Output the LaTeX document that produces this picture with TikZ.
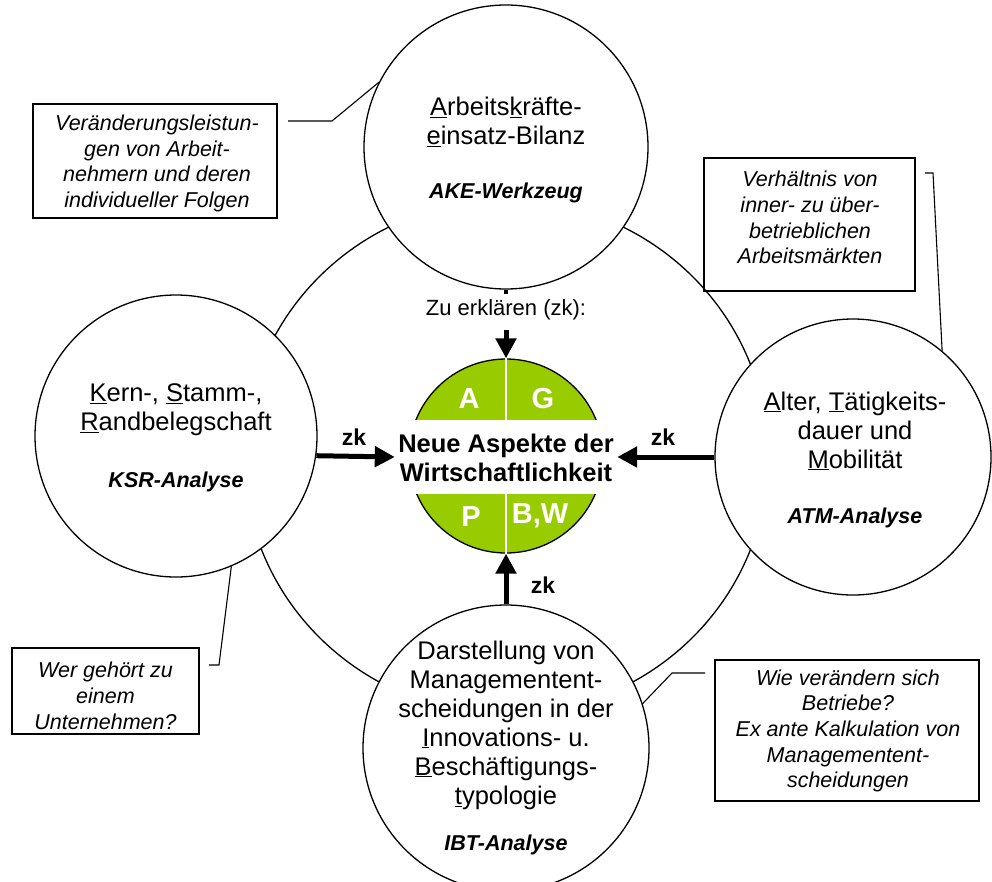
\documentclass[tikz,border=0pt]{standalone}
\usepackage{fontspec}
\setmainfont{Liberation Sans}
\usetikzlibrary{arrows.meta}
\definecolor{aspgreen}{RGB}{153,204,0}
\newcommand{\uln}[1]{\underline{#1}}
\begin{document}
\begin{tikzpicture}[x=1pt,y=-1pt,
  bubble/.style={circle,draw,line width=1.3pt,fill=white,inner sep=0pt},
  bubbletext/.style={align=center,inner sep=0pt,font=\fontsize{25.5}{29}\selectfont},
  tooltext/.style={inner sep=0pt,font=\fontsize{21.5}{25}\selectfont\bfseries\itshape},
  callbox/.style={draw,line width=1.1pt,inner sep=0pt},
  calltext/.style={align=center,inner sep=0pt,font=\fontsize{21.5}{25.7}\selectfont\itshape},
  callline/.style={line width=1.1pt},
  zkarrow/.style={line width=5pt,-{Triangle[width=20pt,length=20pt]}},
  zklabel/.style={inner sep=0pt,font=\fontsize{23}{26}\selectfont\bfseries},
  letter/.style={inner sep=0pt,text=white,font=\fontsize{29}{32}\selectfont\bfseries}
]
\useasboundingbox (0,0) rectangle (992,881);

% big ring
\draw[line width=1.3pt] (506,457) ellipse [x radius=262pt, y radius=257pt];

% satellite circles
\node[bubble,minimum size=284pt] (ake) at (506,147) {};
\node[bubble,minimum size=282pt] (ksr) at (176,436) {};
\node[bubble,minimum size=276pt] (atm) at (853,457) {};
\node[bubble,minimum size=286pt] (ibt) at (506,748) {};

% central green disc
\node[circle,draw,line width=1.3pt,fill=aspgreen,minimum size=194pt,inner sep=0pt] (asp) at (506,456) {};
\draw[white,line width=1.5pt] (asp.north) -- (asp.south);
\node[fill=white,minimum width=222pt,minimum height=74pt,inner sep=0pt] (band) at (506,457) {};
\node[align=center,inner sep=0pt,font=\fontsize{25.5}{29}\selectfont\bfseries] (asptext) at (506,457.5) {Neue Aspekte der\\Wirtschaftlichkeit};
\node[letter] (la) at (469,399) {A};
\node[letter] (lg) at (543,399) {G};
\node[letter] (lp) at (471,517) {P};
\node[letter] (lbw) at (540,516) {B,W};

% arrows
\coordinate (zkin) at (506,330);
\draw[zkarrow] (zkin) -- (asp.north);
\draw[zkarrow] (ksr.-8.5) -- (band.west);
\draw[zkarrow] (atm.west) -- (band.east);
\draw[zkarrow] (ibt.north) -- (asp.south);
\draw[line width=4pt] (ake.south) -- ++(0,4);

\node[inner sep=0pt,font=\fontsize{22}{25}\selectfont] (zulabel) at (506,310) {Zu erklären (zk):};
\node[zklabel] (zkl) at (354,437) {zk};
\node[zklabel] (zkr) at (663,437) {zk};
\node[zklabel] (zkb) at (543,585) {zk};

% circle texts
\node[bubbletext] (aketext) at (506,122) {\uln{A}rbeits\uln{k}räfte-\\\uln{e}insatz-Bilanz};
\node[tooltext] (aketool) at (506,193) {AKE-Werkzeug};
\node[bubbletext] (ksrtext) at (176,410) {\uln{K}ern-, \uln{S}tamm-,\\\uln{R}andbelegschaft};
\node[tooltext] (ksrtool) at (176,482) {KSR-Analyse};
\node[bubbletext] (atmtext) at (855,431) {\uln{A}lter, \uln{T}ätigkeits-\\dauer und\\\uln{M}obilität};
\node[tooltext] (atmtool) at (855,518) {ATM-Analyse};
\node[bubbletext] (ibttext) at (506,725) {Darstellung von\\Managementent-\\scheidungen in der\\\uln{I}nnovations- u.\\\uln{B}eschäftigungs-\\\uln{t}ypologie};
\node[tooltext] (ibttool) at (506,845) {IBT-Analyse};

% callout boxes
\node[callbox,minimum width=244pt,minimum height=114pt] (box1) at (155,161) {};
\node[calltext] (t1) at (157,163.5) {Veränderungsleistun-\\gen von Arbeit-\\nehmern und deren\\individueller Folgen};
\node[callbox,minimum width=211pt,minimum height=133pt] (box2) at (809.5,224.5) {};
\node[calltext] (t2) at (810,217.5) {Verhältnis von\\inner- zu über-\\betrieblichen\\Arbeitsmärkten};
\node[callbox,minimum width=187pt,minimum height=86pt] (box3) at (105.5,691) {};
\node[calltext] (t3) at (105.5,696) {Wer gehört zu\\einem\\Unternehmen?};
\node[callbox,minimum width=264pt,minimum height=141pt] (box4) at (847,730.5) {};
\node[calltext] (t4) at (848,731) {Wie verändern sich\\Betriebe?\\Ex ante Kalkulation von\\Managementent-\\scheidungen};

% callout leaders
\coordinate (k1a) at (288,121); \coordinate (k1b) at (332,121);
\draw[callline] (k1a) -- (k1b) -- (ake.153);
\coordinate (k2a) at (925,173); \coordinate (k2b) at (933,173);
\draw[callline] (k2a) -- (k2b) -- (atm.50);
\coordinate (k3a) at (209,665); \coordinate (k3b) at (219,665);
\draw[callline] (k3a) -- (k3b) -- (ksr.-67);
\coordinate (k4a) at (705,673); \coordinate (k4b) at (672,673);
\draw[callline] (k4a) -- (k4b) -- (ibt.18);
\end{tikzpicture}
\end{document}
